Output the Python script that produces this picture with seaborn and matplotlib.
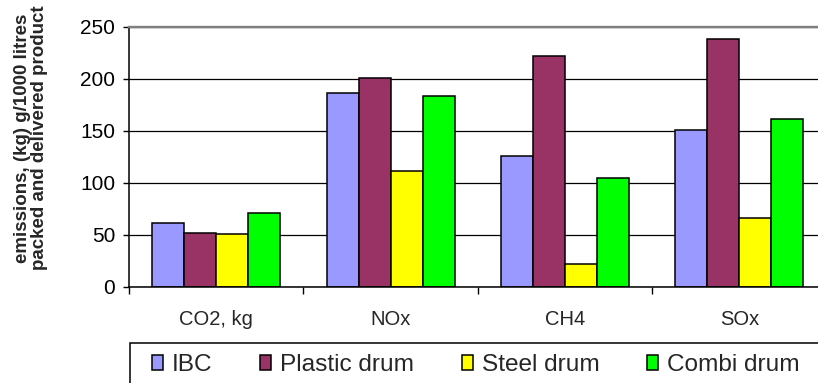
import matplotlib
matplotlib.use("Agg")
import matplotlib.pyplot as plt
from matplotlib.patches import Patch, Rectangle
import seaborn as sns
import pandas as pd

# Emission values per 1000 litres of packed and delivered product
categories = ["CO2, kg", "NOx", "CH4", "SOx"]
series = ["IBC", "Plastic drum", "Steel drum", "Combi drum"]
ibc = [61, 186, 126, 151]
plastic_drum = [52, 201, 222, 238]
steel_drum = [51, 111, 22, 66]
combi_drum = [71, 184, 105, 161]
colors = ["#9999FF", "#993366", "#FFFF00", "#00FF00"]
y_ticks = [0, 50, 100, 150, 200, 250]

rows = []
for name, vals in zip(series, [ibc, plastic_drum, steel_drum, combi_drum]):
    for cat, v in zip(categories, vals):
        rows.append({"category": cat, "packaging": name, "value": v})
df = pd.DataFrame(rows)

sns.set_style("ticks")
plt.rcParams["font.family"] = ["Liberation Sans", "DejaVu Sans"]

W, H = 818, 383
fig = plt.figure(figsize=(W / 100, H / 100), dpi=100)
ax_left, ax_right, ax_top, ax_bottom = 129.0, 826.6, 27.0, 286.7
ax = fig.add_axes([ax_left / W, 1 - ax_bottom / H,
                   (ax_right - ax_left) / W, (ax_bottom - ax_top) / H])

sns.barplot(data=df, x="category", y="value", hue="packaging",
            hue_order=series, order=categories, palette=colors,
            width=0.734, edgecolor="black", linewidth=1.1,
            saturation=1, legend=False, ax=ax)

ax.set_xlim(-0.5, 3.5)
ax.set_ylim(0, 250)
ax.set_yticks(y_ticks)
ax.set_xlabel("")
ax.yaxis.grid(True, color="black", linewidth=0.9)
ax.set_axisbelow(True)

ax.tick_params(axis="y", direction="out", length=4.5, width=1.0,
               pad=5.5, labelsize=15, colors="black")
ax.tick_params(axis="x", which="major", length=0, pad=16.5, labelsize=14.5)
ax.set_xticks([-0.5, 0.5, 1.5, 2.5, 3.5], minor=True)
ax.tick_params(axis="x", which="minor", direction="out", length=5,
               width=1.0, color="black")

for side in ("left", "bottom"):
    ax.spines[side].set_color("black")
    ax.spines[side].set_linewidth(1.1)
ax.spines["top"].set_color("#808080")
ax.spines["top"].set_linewidth(1.7)
ax.spines["right"].set_visible(False)

ax.set_ylabel("emissions, (kg) g/1000 litres\npacked and delivered product",
              fontsize=13.5, fontweight="bold", linespacing=1.05,
              va="center", ha="center")
ax.yaxis.set_label_coords((31 - ax_left) / (ax_right - ax_left),
                          (ax_bottom - 138) / (ax_bottom - ax_top))

# Legend box running off the lower and right edges
fig.patches.append(Rectangle((130 / W, -0.2), 1.0, (H - 343) / H + 0.2,
                             transform=fig.transFigure, fill=False,
                             edgecolor="black", linewidth=1.1))
handles = [Patch(facecolor=c, edgecolor="black", linewidth=1.1) for c in colors]
fig.legend(handles, series, loc="upper left",
           bbox_to_anchor=(152 / W, 1 - 354 / H), ncol=4, frameon=False,
           fontsize=17.6, handlelength=0.45, handleheight=0.53,
           handletextpad=0.37, columnspacing=1.95, borderpad=0,
           borderaxespad=0)

fig.savefig("out.png", dpi=100, facecolor="white")
